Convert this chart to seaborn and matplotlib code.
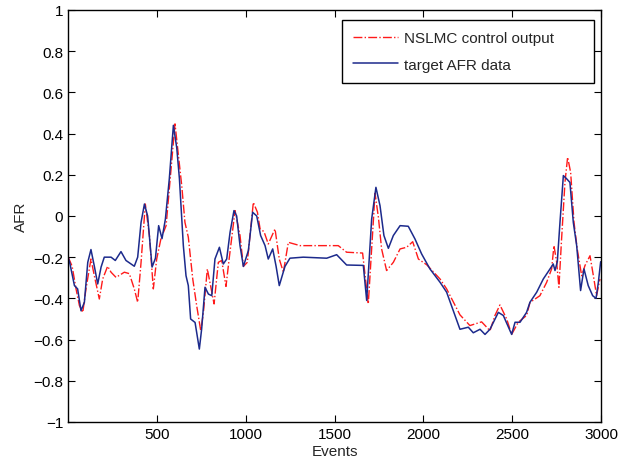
import numpy as np
import pandas as pd
import seaborn as sns
import matplotlib
matplotlib.use("Agg")
import matplotlib.pyplot as plt

# values (event index, AFR)
target_x = [1, 11, 36, 54, 73, 92, 111, 129, 148, 167, 186, 204, 242, 266, 298, 326, 373,
            392, 411, 430, 448, 473, 492, 510, 529, 548, 570, 593, 612, 627, 649, 664,
            677, 690, 715, 739, 752, 771, 790, 809, 827, 852, 874, 893, 912, 934, 949,
            968, 987, 1015, 1039, 1062, 1084, 1109, 1127, 1152, 1171, 1189, 1221, 1249,
            1324, 1456, 1512, 1568, 1662, 1681, 1709, 1733, 1756, 1778, 1803, 1831,
            1869, 1915, 1953, 1990, 2037, 2094, 2131, 2206, 2253, 2281, 2319, 2347,
            2375, 2422, 2450, 2497, 2516, 2544, 2581, 2600, 2638, 2675, 2713, 2731,
            2741, 2754, 2769, 2788, 2807, 2825, 2844, 2863, 2885, 2904, 2928, 2953,
            2972, 2985, 2998]
target_y = [-0.2, -0.233, -0.338, -0.354, -0.46, -0.419, -0.225, -0.163, -0.244, -0.33,
            -0.248, -0.2, -0.2, -0.216, -0.173, -0.216, -0.244, -0.2, -0.031, 0.058, 0.0,
            -0.248, -0.205, -0.047, -0.11, -0.015, 0.18, 0.44, 0.33, 0.18, -0.144, -0.29,
            -0.338, -0.5, -0.517, -0.646, -0.549, -0.346, -0.379, -0.387, -0.209,
            -0.152, -0.233, -0.209, -0.079, 0.026, 0.0, -0.144, -0.245, -0.168, 0.018,
            0.0, -0.095, -0.144, -0.209, -0.16, -0.244, -0.338, -0.245, -0.205, -0.2,
            -0.205, -0.188, -0.238, -0.24, -0.41, -0.015, 0.139, 0.05, -0.095, -0.157,
            -0.095, -0.047, -0.05, -0.112, -0.184, -0.257, -0.322, -0.37, -0.55, -0.54,
            -0.567, -0.55, -0.575, -0.55, -0.468, -0.483, -0.575, -0.516, -0.516,
            -0.468, -0.419, -0.37, -0.306, -0.257, -0.233, -0.265, -0.222, -0.031,
            0.196, 0.18, 0.163, -0.031, -0.144, -0.362, -0.257, -0.338, -0.387, -0.4,
            -0.322, -0.222]

control_x = [1, 23, 45, 64, 83, 101, 129, 148, 176, 195, 223, 242, 270, 317, 345, 373,
             392, 411, 435, 458, 480, 499, 523, 552, 602, 640, 658, 677, 702, 724, 747,
             762, 784, 803, 822, 846, 865, 889, 908, 940, 968, 987, 1009, 1043, 1066,
             1081, 1103, 1127, 1165, 1189, 1212, 1240, 1306, 1521, 1568, 1658, 1690,
             1728, 1747, 1765, 1793, 1831, 1869, 1906, 1940, 1972, 2019, 2094, 2131,
             2206, 2262, 2328, 2375, 2403, 2431, 2469, 2497, 2534, 2581, 2600, 2656,
             2694, 2722, 2735, 2750, 2763, 2778, 2797, 2812, 2829, 2848, 2866, 2891,
             2910, 2938, 2960, 2975, 2994]
control_y = [-0.2, -0.244, -0.354, -0.435, -0.468, -0.354, -0.209, -0.29, -0.403, -0.306,
             -0.244, -0.273, -0.298, -0.273, -0.28, -0.354, -0.419, -0.225, 0.058,
             -0.095, -0.354, -0.209, -0.11, -0.047, 0.447, 0.147, -0.031, -0.103,
             -0.306, -0.435, -0.557, -0.468, -0.257, -0.342, -0.427, -0.225, -0.216,
             -0.342, -0.2, 0.026, -0.095, -0.245, -0.225, 0.066, 0.018, -0.063, -0.076,
             -0.136, -0.063, -0.209, -0.273, -0.128, -0.144, -0.144, -0.176, -0.18,
             -0.427, 0.11, -0.007, -0.16, -0.265, -0.225, -0.16, -0.152, -0.125, -0.209,
             -0.237, -0.306, -0.354, -0.48, -0.532, -0.514, -0.557, -0.483, -0.432,
             -0.5, -0.575, -0.516, -0.483, -0.42, -0.387, -0.322, -0.257, -0.144,
             -0.222, -0.346, -0.112, 0.163, 0.285, 0.212, -0.031, -0.16, -0.29, -0.24,
             -0.193, -0.306, -0.387, -0.306]

x_ticks = [500, 1000, 1500, 2000, 2500, 3000]
y_ticks = [-1, -0.8, -0.6, -0.4, -0.2, 0, 0.2, 0.4, 0.6, 0.8, 1]
y_tick_labels = ["\u22121", "\u22120.8", "\u22120.6", "\u22120.4", "\u22120.2", "0",
                 "0.2", "0.4", "0.6", "0.8", "1"]

control = pd.DataFrame({"Events": control_x, "AFR": control_y})
target = pd.DataFrame({"Events": target_x, "AFR": target_y})

sns.set_theme(style="ticks")
plt.rcParams["font.family"] = ["Liberation Sans", "DejaVu Sans"]
plt.rcParams["xtick.direction"] = "in"
plt.rcParams["ytick.direction"] = "in"

fig = plt.figure(figsize=(6.3, 4.64), dpi=100)
ax = fig.add_axes([0.108, 0.0884, 0.846, 0.888])

sns.lineplot(data=control, x="Events", y="AFR", ax=ax, color="#ff1a1a", linewidth=1.0,
             linestyle="-.", label="NSLMC control output", estimator=None, sort=False)
sns.lineplot(data=target, x="Events", y="AFR", ax=ax, color="#1c2a8c", linewidth=1.1,
             label="target AFR data", estimator=None, sort=False)

ax.set_xlim(0, 3000)
ax.set_ylim(-1, 1)
ax.set_xticks(x_ticks)
ax.set_yticks(y_ticks)
ax.set_yticklabels(y_tick_labels)
ax.tick_params(axis="both", labelsize=11, length=5, width=0.8, colors="black",
               top=True, right=True)
ax.set_xlabel("Events", fontsize=11, labelpad=2)
ax.set_ylabel("AFR", fontsize=11, labelpad=4)
for s in ax.spines.values():
    s.set_linewidth(1.0)
    s.set_color("black")

# MATLAB-like legend box: wide, with empty room on the right
leg = ax.legend(loc="upper left", bbox_to_anchor=(0.514, 0.82, 0.473, 0.156),
                mode="expand", borderaxespad=0, fontsize=11, frameon=True,
                fancybox=False, edgecolor="black", framealpha=1, handlelength=2.9,
                labelspacing=0.8, borderpad=0.75, handletextpad=0.4)
leg.get_frame().set_linewidth(1.0)

fig.savefig("out.png", dpi=100)
